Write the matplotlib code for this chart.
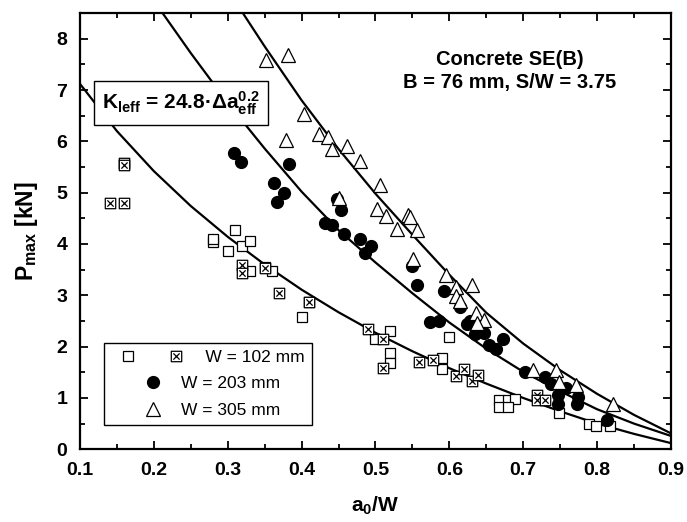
import matplotlib
matplotlib.use('Agg')
import matplotlib.pyplot as plt
from matplotlib.path import Path
from matplotlib.lines import Line2D
from matplotlib.ticker import MultipleLocator
from matplotlib.legend_handler import HandlerTuple, HandlerLine2D

plt.rcParams['font.family'] = ['Liberation Sans', 'DejaVu Sans']
plt.rcParams['mathtext.fontset'] = 'custom'
plt.rcParams['mathtext.rm'] = 'Liberation Sans'
plt.rcParams['mathtext.it'] = 'Liberation Sans:italic'
plt.rcParams['mathtext.bf'] = 'Liberation Sans:bold'

# W = 102 mm, open squares
sq_x = [0.28, 0.28, 0.30, 0.31, 0.32, 0.33, 0.33, 0.36, 0.35, 0.40, 0.41,
        0.50, 0.52, 0.52, 0.52, 0.60, 0.59, 0.59,
        0.667, 0.68, 0.689, 0.667, 0.68, 0.749, 0.789, 0.799, 0.818]
sq_y = [4.03, 4.10, 3.87, 4.27, 3.96, 4.05, 3.48, 3.48, 3.55, 2.58, 2.87,
        2.14, 2.30, 1.88, 1.69, 2.18, 1.78, 1.56,
        0.97, 0.97, 0.98, 0.83, 0.83, 0.71, 0.49, 0.45, 0.45]

# W = 102 mm, crossed squares
cx_x = [0.14, 0.16, 0.16, 0.16, 0.32, 0.32, 0.35, 0.37, 0.41, 0.49,
        0.51, 0.51, 0.559, 0.578, 0.609, 0.62, 0.63, 0.639,
        0.719, 0.719, 0.729]
cx_y = [4.80, 4.80, 5.57, 5.53, 3.60, 3.43, 3.53, 3.05, 2.87, 2.34,
        2.15, 1.59, 1.70, 1.73, 1.43, 1.56, 1.33, 1.44,
        1.05, 0.96, 0.96]

# W = 203 mm
ci_x = [0.308, 0.318, 0.383, 0.363, 0.376, 0.367, 0.448, 0.454, 0.431, 0.441,
        0.458, 0.479, 0.494, 0.486, 0.549, 0.556, 0.593, 0.614, 0.574, 0.586,
        0.624, 0.628, 0.635, 0.647, 0.654, 0.663, 0.673, 0.702, 0.729, 0.738,
        0.758, 0.747, 0.747, 0.774, 0.773, 0.814]
ci_y = [5.78, 5.59, 5.55, 5.18, 5.00, 4.81, 4.87, 4.67, 4.41, 4.37,
        4.20, 4.09, 3.96, 3.83, 3.57, 3.20, 3.08, 2.77, 2.48, 2.50,
        2.44, 2.50, 2.24, 2.27, 2.03, 1.95, 2.14, 1.51, 1.40, 1.27,
        1.20, 1.05, 0.89, 1.01, 0.89, 0.58]

# W = 305 mm
tr_x = [0.352, 0.381, 0.403, 0.379, 0.423, 0.436, 0.441, 0.462, 0.479, 0.451,
        0.506, 0.502, 0.514, 0.544, 0.547, 0.529, 0.556, 0.551, 0.596, 0.630,
        0.609, 0.609, 0.615, 0.636, 0.647, 0.638, 0.713, 0.745, 0.749, 0.772,
        0.821]
tr_y = [7.58, 7.68, 6.54, 6.02, 6.15, 6.08, 5.86, 5.91, 5.61, 4.90,
        5.15, 4.69, 4.54, 4.56, 4.52, 4.29, 4.28, 3.70, 3.39, 3.20,
        3.16, 2.99, 2.89, 2.65, 2.51, 2.46, 1.54, 1.54, 1.31, 1.25,
        0.88]

# predicted P_max curves
fit102_x = [0.10, 0.15, 0.20, 0.25, 0.30, 0.35, 0.40, 0.45, 0.50,
            0.55, 0.60, 0.65, 0.70, 0.75, 0.80, 0.85, 0.90]
fit102_y = [7.12, 6.20, 5.42, 4.74, 4.14, 3.60, 3.11, 2.67, 2.27,
            1.91, 1.58, 1.28, 1.00, 0.74, 0.50, 0.30, 0.12]
fit203_x = [0.20, 0.25, 0.30, 0.35, 0.40, 0.45, 0.50, 0.55,
            0.60, 0.65, 0.70, 0.75, 0.80, 0.85, 0.90]
fit203_y = [8.74, 7.72, 6.75, 5.86, 5.02, 4.27, 3.64, 3.04,
            2.47, 1.96, 1.51, 1.13, 0.78, 0.50, 0.26]
fit305_x = [0.30, 0.35, 0.40, 0.45, 0.50, 0.55, 0.60,
            0.65, 0.70, 0.75, 0.80, 0.85, 0.90]
fit305_y = [8.95, 7.85, 6.80, 5.85, 4.98, 4.18, 3.40,
            2.66, 2.06, 1.54, 1.08, 0.67, 0.31]

# square with an X inside
crossed = Path([(-1, -1), (1, -1), (1, 1), (-1, 1), (-1, -1),
                (-0.6, -0.6), (0.6, 0.6), (-0.6, 0.6), (0.6, -0.6)],
               [Path.MOVETO, Path.LINETO, Path.LINETO, Path.LINETO, Path.CLOSEPOLY,
                Path.MOVETO, Path.LINETO, Path.MOVETO, Path.LINETO])

fig = plt.figure(figsize=(6.87, 5.22), dpi=100)
ax = fig.add_axes([0.1164, 0.1393, 0.8603, 0.8357])

for fx, fy in [(fit102_x, fit102_y), (fit203_x, fit203_y), (fit305_x, fit305_y)]:
    ax.plot(fx, fy, color='black', lw=1.6, zorder=2)

sq_style = dict(ls='none', marker='s', ms=7.5, mfc='white', mec='black', mew=0.9)
cx_style = dict(ls='none', marker=crossed, ms=7.5, mfc='white', mec='black', mew=0.9)
ci_style = dict(ls='none', marker='o', ms=8.5, mfc='black', mec='black')
tr_style = dict(ls='none', marker='^', ms=9.5, mfc='white', mec='black', mew=0.9)

ax.plot(sq_x, sq_y, zorder=3, **sq_style)
ax.plot(cx_x, cx_y, zorder=3, **cx_style)
ax.plot(ci_x, ci_y, zorder=4, **ci_style)
ax.plot(tr_x, tr_y, zorder=5, **tr_style)

ax.set_xlim(0.1, 0.9)
ax.set_ylim(0, 8.5)
ax.xaxis.set_major_locator(MultipleLocator(0.1))
ax.xaxis.set_minor_locator(MultipleLocator(0.05))
ax.yaxis.set_major_locator(MultipleLocator(1))
ax.yaxis.set_minor_locator(MultipleLocator(0.5))
ax.tick_params(which='both', direction='in', top=True, right=True, width=1.3)
ax.tick_params(which='major', length=6, labelsize=14)
ax.tick_params(which='minor', length=3.5)
ax.tick_params(axis='x', pad=9.5)
ax.tick_params(axis='y', pad=9)
for lab in ax.get_xticklabels() + ax.get_yticklabels():
    lab.set_fontweight('bold')
for sp in ax.spines.values():
    sp.set_linewidth(1.6)

ax.set_xlabel(r'$\mathbf{a_0}$/W', fontsize=15, fontweight='bold', labelpad=11)
ax.set_ylabel(r'$\mathbf{P_{max}}$ [kN]', fontsize=16.5, fontweight='bold', labelpad=12)

ax.text(0.682, 7.38, 'Concrete SE(B)\nB = 76 mm, S/W = 3.75', ha='center', va='center',
        fontsize=14.5, fontweight='bold', linespacing=1.27)

ax.text(0.2367, 6.74, r'$\mathbf{K_{leff}}$ = 24.8·Δ$\mathbf{a^{0.2}_{eff}}$',
        ha='center', va='center', fontsize=15, fontweight='bold', zorder=6,
        bbox=dict(boxstyle='square,pad=0.4', fc='white', ec='black', lw=1.0))

h_sq = Line2D([], [], **sq_style)
h_cx = Line2D([], [], **cx_style)
h_ci = Line2D([], [], **ci_style)
h_tr = Line2D([], [], **tr_style)
leg = ax.legend([(h_sq, h_cx), h_ci, h_tr],
                ['     W = 102 mm', 'W = 203 mm', 'W = 305 mm'],
                handler_map={tuple: HandlerTuple(ndivide=None, pad=2.7, xpad=0.92),
                             h_ci: HandlerLine2D(xpad=1.0),
                             h_tr: HandlerLine2D(xpad=1.0)},
                loc='lower left', bbox_to_anchor=(0.04, 0.056), borderaxespad=0,
                fontsize=12.5, numpoints=1, handlelength=3.85, handletextpad=0.23,
                borderpad=0.4, labelspacing=0.66, fancybox=False,
                edgecolor='black', framealpha=1)
leg.get_frame().set_linewidth(1.0)
leg.set_zorder(7)

fig.savefig('out.png', dpi=100)
